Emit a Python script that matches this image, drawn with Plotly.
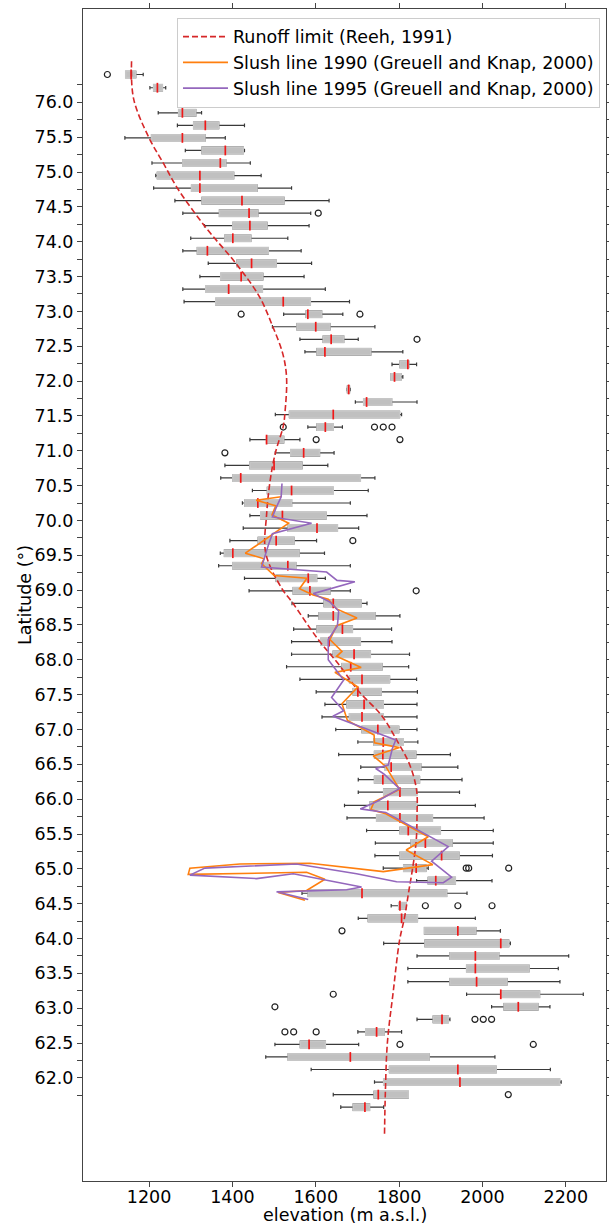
import plotly.graph_objects as go

# ---------------- data ----------------
lat = [76.40, 76.21, 75.85, 75.67, 75.49, 75.31, 75.13, 74.95, 74.77, 74.59,
       74.41, 74.23, 74.05, 73.87, 73.69, 73.50, 73.32, 73.14, 72.96, 72.78,
       72.60, 72.42, 72.24, 72.06, 71.88, 71.70, 71.52, 71.34, 71.16, 70.97,
       70.79, 70.61, 70.43, 70.25, 70.07, 69.89, 69.71, 69.53, 69.35, 69.17,
       68.99, 68.81, 68.63, 68.44, 68.26, 68.08, 67.90, 67.72, 67.54, 67.36,
       67.18, 67.00, 66.82, 66.64, 66.46, 66.28, 66.10, 65.91, 65.73, 65.55,
       65.37, 65.19, 65.01, 64.83, 64.65, 64.47, 64.29, 64.11, 63.93, 63.75,
       63.57, 63.38, 63.20, 63.02, 62.84, 62.66, 62.48, 62.30, 62.12, 61.94,
       61.76, 61.58]
whisker_low = [1144, 1202, 1222, 1268, 1142, 1287, 1207, 1216, 1211, 1262,
               1281, 1333, 1300, 1281, 1342, 1322, 1281, 1284, 1523, 1496,
               1562, 1574, 1783, 1781, 1675, 1695, 1503, 1581, 1442, 1503,
               1382, 1372, 1448, 1424, 1442, 1426, 1394, 1371, 1367, 1429,
               1440, 1543, 1582, 1547, 1542, 1542, 1530, 1562, 1601, 1622,
               1615, 1648, 1701, 1655, 1708, 1702, 1702, 1669, 1675, 1722,
               1743, 1742, 1762, 1842, 1567, 1781, 1702, 1861, 1763, 1843,
               1821, 1821, 1962, 2022, 1843, 1701, 1502, 1480, 1589, 1741,
               1642, 1660]
q1 = [1144, 1211, 1271, 1307, 1206, 1327, 1281, 1220, 1302, 1327,
      1369, 1401, 1382, 1316, 1411, 1372, 1336, 1360, 1577, 1555,
      1618, 1603, 1802, 1781, 1676, 1715, 1537, 1603, 1482, 1540,
      1442, 1401, 1484, 1430, 1468, 1534, 1462, 1381, 1401, 1505,
      1546, 1620, 1608, 1603, 1612, 1642, 1663, 1681, 1690, 1675,
      1681, 1711, 1740, 1741, 1767, 1741, 1763, 1730, 1746, 1802,
      1829, 1802, 1811, 1870, 1582, 1799, 1726, 1861, 1862, 1922,
      1962, 1922, 2044, 2052, 1882, 1720, 1563, 1534, 1777, 1763,
      1740, 1690]
median = [1157, 1220, 1280, 1335, 1280, 1383, 1371, 1322, 1322, 1423,
          1440, 1442, 1401, 1340, 1446, 1421, 1391, 1522, 1581, 1600,
          1637, 1622, 1821, 1789, 1679, 1722, 1642, 1623, 1482, 1571,
          1500, 1420, 1542, 1461, 1520, 1603, 1505, 1401, 1533, 1582,
          1586, 1642, 1642, 1664, 1632, 1692, 1684, 1711, 1701, 1716,
          1711, 1749, 1762, 1761, 1781, 1761, 1802, 1773, 1802, 1822,
          1863, 1902, 1841, 1888, 1711, 1802, 1806, 1941, 2044, 1983,
          1983, 1986, 2044, 2086, 1903, 1746, 1584, 1683, 1941, 1946,
          1750, 1718]
q3 = [1168, 1232, 1312, 1367, 1334, 1426, 1384, 1403, 1459, 1524,
      1461, 1483, 1444, 1486, 1505, 1473, 1472, 1587, 1614, 1634,
      1667, 1732, 1823, 1804, 1681, 1782, 1801, 1642, 1523, 1609,
      1567, 1707, 1642, 1542, 1625, 1652, 1548, 1560, 1552, 1602,
      1634, 1709, 1742, 1688, 1707, 1731, 1759, 1777, 1757, 1762,
      1762, 1799, 1810, 1840, 1852, 1849, 1842, 1842, 1880, 1899,
      1927, 1944, 1864, 1935, 1914, 1817, 1844, 1984, 2063, 2039,
      2112, 2059, 2137, 2133, 1918, 1764, 1623, 1872, 2033, 2185,
      1822, 1729]
whisker_high = [1186, 1240, 1326, 1429, 1383, 1429, 1443, 1469, 1542, 1632,
                1588, 1584, 1533, 1565, 1590, 1572, 1623, 1681, 1665, 1742,
                1702, 1809, 1842, 1809, 1683, 1843, 1806, 1664, 1562, 1644,
                1629, 1742, 1726, 1683, 1723, 1703, 1602, 1621, 1683, 1623,
                1683, 1723, 1802, 1782, 1783, 1825, 1823, 1842, 1844, 1843,
                1843, 1843, 1845, 1923, 1941, 1951, 1945, 1983, 2004, 2026,
                2026, 2024, 1870, 2023, 1963, 1817, 1983, 2043, 2067, 2207,
                2182, 2186, 2242, 2162, 1922, 1806, 1703, 2030, 2163, 2189,
                1822, 1763]

outlier_lat = [76.40, 74.41, 72.96, 72.96, 72.60, 71.34, 71.34, 71.34, 71.34,
               71.16, 71.16, 70.97, 69.71, 68.99, 65.01, 65.01, 65.01,
               64.47, 64.47, 64.47, 64.11, 63.20, 63.02, 62.84, 62.84, 62.84,
               62.66, 62.66, 62.66, 62.48, 62.48, 61.76]
outlier_elev = [1100, 1606, 1421, 1706, 1843, 1522, 1741, 1762, 1783,
                1601, 1802, 1382, 1689, 1841, 1961, 1967, 2063,
                1863, 1941, 2023, 1663, 1642, 1502, 1982, 2002, 2022,
                1526, 1547, 1601, 1802, 2122, 2062]

runoff_lat = [76.59, 76.05, 75.49, 75.12, 74.76, 74.19, 73.70, 73.22, 72.78,
              72.39, 72.05, 71.54, 71.35, 70.99, 70.63, 70.08, 69.53, 69.02,
              68.83, 68.29, 67.92, 67.55, 67.20, 66.84, 66.50, 66.13, 65.76,
              65.40, 65.03, 64.67, 64.30, 63.97, 63.24, 62.51, 61.78, 61.19]
runoff_elev = [1158, 1163, 1200, 1235, 1269, 1338, 1407, 1464, 1497,
               1521, 1530, 1526, 1522, 1504, 1492, 1482, 1480, 1519,
               1543, 1606, 1657, 1703, 1758, 1795, 1825, 1842, 1843,
               1841, 1833, 1823, 1813, 1801, 1786, 1772, 1767, 1765]

slush1990_lat = [70.34, 70.29, 70.21, 70.08, 69.96, 69.78, 69.53, 69.45, 69.38,
                 69.21, 69.17, 69.02, 68.93, 68.87, 68.73, 68.60, 68.49, 68.29,
                 68.12, 68.05, 67.89, 67.82, 67.61, 67.37, 67.13, 66.92, 66.81,
                 66.74, 66.62, 66.47, 66.14, 65.96, 65.85, 65.79, 65.46, 65.27,
                 65.06, 64.96, 65.08, 65.07, 65.01, 64.92, 64.95, 64.85, 64.69,
                 64.66, 64.55]
slush1990_elev = [1517, 1457, 1504, 1495, 1535, 1492, 1431, 1476, 1470,
                  1500, 1579, 1561, 1594, 1630, 1650, 1699, 1650, 1634,
                  1663, 1650, 1709, 1646, 1701, 1663, 1676, 1740, 1741,
                  1801, 1738, 1768, 1801, 1740, 1732, 1768, 1870, 1817,
                  1881, 1762, 1586, 1418, 1298, 1294, 1578, 1622, 1578,
                  1510, 1574]

slush1995_lat = [70.53, 70.34, 70.17, 70.05, 69.96, 69.81, 69.66, 69.47, 69.33,
                 69.26, 69.14, 69.12, 68.95, 68.83, 68.70, 68.49, 68.29, 68.00,
                 67.71, 67.46, 67.27, 67.19, 66.98, 66.85, 66.73, 66.49, 66.44,
                 66.36, 66.15, 65.97, 65.86, 65.81, 65.32, 65.11, 64.88, 64.80,
                 64.815, 64.93, 65.07, 65.01, 64.91, 64.86, 64.93, 64.74, 64.70,
                 64.67, 64.56]
slush1995_elev = [1519, 1517, 1504, 1496, 1590, 1496, 1487, 1478, 1470,
                  1626, 1651, 1694, 1594, 1634, 1655, 1652, 1630, 1630,
                  1667, 1638, 1667, 1641, 1732, 1792, 1784, 1774, 1744,
                  1764, 1801, 1748, 1707, 1768, 1918, 1878, 1926, 1906,
                  1794, 1698, 1554, 1334, 1298, 1458, 1546, 1710, 1674,
                  1506, 1582]

xtick_vals = [1200, 1400, 1600, 1800, 2000, 2200]
ytick_vals = [61.75, 62.0, 62.25, 62.5, 62.75, 63.0, 63.25, 63.5, 63.75, 64.0,
              64.25, 64.5, 64.75, 65.0, 65.25, 65.5, 65.75, 66.0, 66.25, 66.5,
              66.75, 67.0, 67.25, 67.5, 67.75, 68.0, 68.25, 68.5, 68.75, 69.0,
              69.25, 69.5, 69.75, 70.0, 70.25, 70.5, 70.75, 71.0, 71.25, 71.5,
              71.75, 72.0, 72.25, 72.5, 72.75, 73.0, 73.25, 73.5, 73.75, 74.0,
              74.25, 74.5, 74.75, 75.0, 75.25, 75.5, 75.75, 76.0, 76.25]
ytick_text = ["", "62.0", "", "62.5", "", "63.0", "", "63.5", "", "64.0",
              "", "64.5", "", "65.0", "", "65.5", "", "66.0", "", "66.5",
              "", "67.0", "", "67.5", "", "68.0", "", "68.5", "", "69.0",
              "", "69.5", "", "70.0", "", "70.5", "", "71.0", "", "71.5",
              "", "72.0", "", "72.5", "", "73.0", "", "73.5", "", "74.0",
              "", "74.5", "", "75.0", "", "75.5", "", "76.0", ""]
x_title = "elevation (m a.s.l.)"
y_title = "Latitude (°)"

# ---------------- figure ----------------
FONT = "DejaVu Sans"
BOX_W = 0.093
AXC = "#444444"

fig = go.Figure()

# whiskers + caps (dark)
fig.add_trace(go.Box(
    y=lat, q1=q1, median=median, q3=q3,
    lowerfence=whisker_low, upperfence=whisker_high,
    orientation="h", width=BOX_W, whiskerwidth=0.55,
    line=dict(color="#3a3a3a", width=1.2),
    fillcolor="rgba(0,0,0,0)", boxpoints=False,
    showlegend=False, hoverinfo="skip"))

# grey boxes
fig.add_trace(go.Box(
    y=lat, q1=q1, median=median, q3=q3,
    lowerfence=q1, upperfence=q3,
    orientation="h", width=BOX_W, whiskerwidth=0,
    line=dict(color="#c6c6c6", width=1.5),
    fillcolor="#c0c0c0", boxpoints=False,
    showlegend=False, hoverinfo="skip"))

# red medians
fig.add_trace(go.Scatter(
    x=median, y=lat, mode="markers",
    marker=dict(symbol="line-ns", size=7, line=dict(color="#f01818", width=1.7)),
    showlegend=False, hoverinfo="skip"))

# outliers
fig.add_trace(go.Scatter(
    x=outlier_elev, y=outlier_lat, mode="markers",
    marker=dict(symbol="circle-open", size=6, color="#222222", line=dict(width=1.2)),
    showlegend=False, hoverinfo="skip"))

fig.add_trace(go.Scatter(
    x=runoff_elev, y=runoff_lat, mode="lines", name="Runoff limit (Reeh, 1991)",
    line=dict(color="#d62728", width=1.6, dash="6px,3px", shape="spline", smoothing=1.0)))
fig.add_trace(go.Scatter(
    x=slush1990_elev, y=slush1990_lat, mode="lines",
    name="Slush line 1990 (Greuell and Knap, 2000)",
    line=dict(color="#ff7f0e", width=1.6)))
fig.add_trace(go.Scatter(
    x=slush1995_elev, y=slush1995_lat, mode="lines",
    name="Slush line 1995 (Greuell and Knap, 2000)",
    line=dict(color="#9467bd", width=1.6)))

fig.update_layout(
    width=609, height=1224,
    margin=dict(l=83, r=3, t=9, b=43, autoexpand=False),
    plot_bgcolor="white", paper_bgcolor="white",
    font=dict(family=FONT, size=17.5, color="black"),
    boxmode="overlay", hovermode=False,
    legend=dict(x=0.9885, xanchor="right", y=0.9925, yanchor="top",
                bgcolor="rgba(255,255,255,0.8)", bordercolor="#cccccc", borderwidth=1,
                itemwidth=45, font=dict(family=FONT, size=17.5)),
    annotations=[
        dict(text=x_title, xref="paper", yref="paper", x=0.5, y=-0.0288,
             xanchor="center", yanchor="middle", showarrow=False,
             font=dict(family=FONT, size=17.5, color="black")),
        dict(text=y_title, xref="paper", yref="paper", x=-0.111, y=0.5,
             xanchor="center", yanchor="middle", textangle=-90, showarrow=False,
             font=dict(family=FONT, size=17.5, color="black")),
    ],
)
fig.update_xaxes(
    range=[1041.5, 2296.5], tickvals=xtick_vals, ticks="outside", ticklen=5,
    tickcolor=AXC, showline=True, linecolor=AXC, linewidth=1, mirror="ticks",
    showgrid=False, zeroline=False, automargin=False, ticklabelstandoff=-5)
fig.update_yaxes(
    range=[60.52, 77.34], tickvals=ytick_vals, ticktext=ytick_text,
    ticks="outside", ticklen=5, tickcolor=AXC, showline=True, linecolor=AXC,
    linewidth=1, mirror="ticks", showgrid=False, zeroline=False, automargin=False)

fig.write_html("out.html")
